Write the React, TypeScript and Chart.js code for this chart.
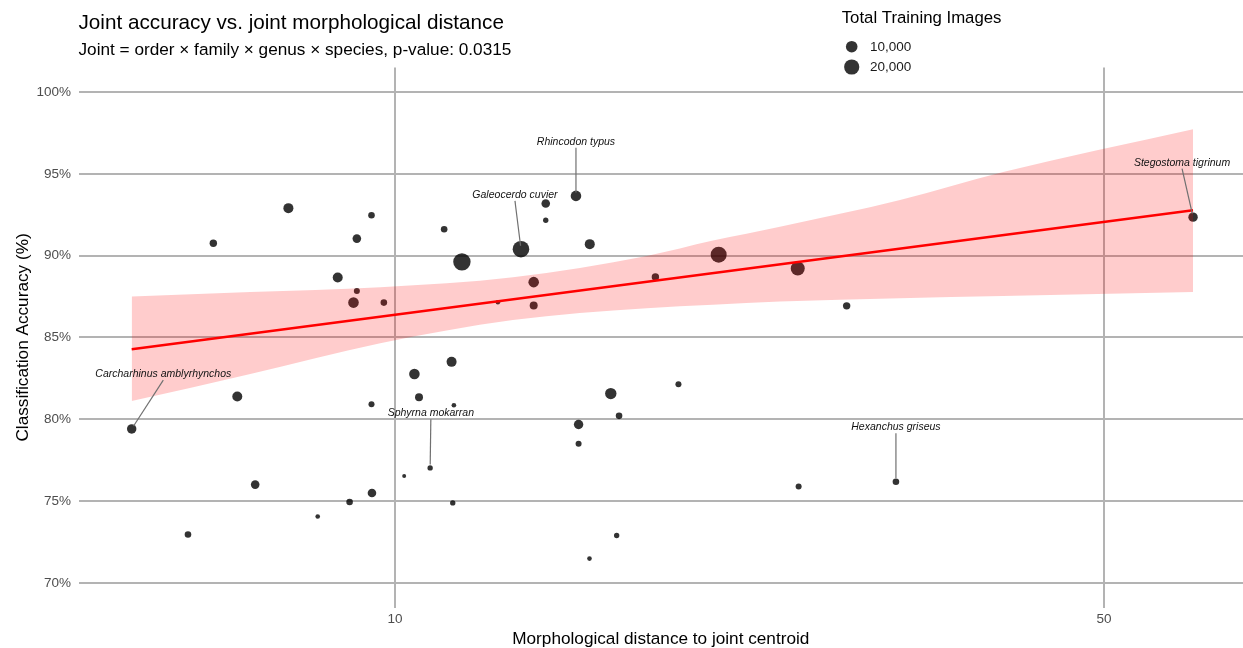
import React, { useEffect, useRef } from 'react';
import { Chart, registerables } from 'chart.js';

Chart.register(...registerables);

const FONT = '"Liberation Sans", Arial, Helvetica, sans-serif';

// ---- point data ----
const distances = [5.50, 6.25, 6.62, 6.99, 7.28, 7.85, 8.39, 8.78, 9.02, 9.10, 9.17, 9.17, 9.48, 9.48, 9.49, 9.75, 10.21, 10.45, 10.56, 10.83, 11.18, 11.37, 11.40, 11.43, 11.64, 12.63, 13.31, 13.70, 13.70, 14.08, 14.08, 15.08, 15.17, 15.17, 15.55, 15.56, 16.32, 16.54, 16.63, 18.06, 19.03, 20.85, 24.95, 25.00, 27.88, 31.18, 61.21];
const accuracies = [79.41, 72.96, 90.76, 81.39, 76.01, 92.90, 74.06, 88.66, 74.95, 87.13, 91.04, 87.84, 92.47, 80.92, 75.50, 87.13, 76.54, 82.77, 81.35, 77.03, 91.61, 83.51, 74.89, 80.86, 89.62, 87.15, 90.39, 88.38, 86.95, 93.18, 92.16, 93.65, 79.68, 78.50, 71.49, 90.70, 81.57, 72.90, 80.21, 88.70, 82.14, 90.06, 89.21, 75.89, 86.93, 76.18, 92.35];
const trainingImages = [5600, 1800, 2700, 6700, 4300, 6700, 400, 6700, 1800, 7800, 4300, 1300, 1800, 1300, 4300, 1800, 150, 7800, 3400, 800, 1800, 6700, 800, 400, 27800, 400, 24800, 7800, 3400, 4300, 800, 7800, 5600, 1300, 400, 6700, 9500, 800, 1800, 2700, 1300, 22700, 16300, 1300, 2700, 1800, 5600];

// ---- regression fit and confidence band ----
const fitX = [5.50, 61.21];
const fitY = [84.28, 92.77];
const bandX = [5.50, 7.20, 9.67, 13.07, 17.71, 20.58, 23.96, 31.47, 39.77, 61.21];
const bandUpper = [87.50, 87.78, 88.07, 88.68, 89.98, 90.92, 91.77, 93.40, 95.11, 97.72];
const bandLower = [81.11, 82.77, 84.65, 86.07, 86.79, 87.00, 87.19, 87.40, 87.54, 87.78];

// ---- labelled species ----
const labelNames = ['Rhincodon typus', 'Galeocerdo cuvier', 'Stegostoma tigrinum', 'Carcharhinus amblyrhynchos', 'Sphyrna mokarran', 'Hexanchus griseus'];
const labelPoint = [31, 26, 46, 0, 19, 45];
const labelX = [15.08, 13.13, 59.7, 5.909, 10.847, 31.18];
const labelY = [96.95, 93.71, 95.68, 82.76, 80.37, 79.52];

// ---- axes / legend ----
const xTicks = [10, 50];
const xTickLabels = ['10', '50'];
const yTicks = [70, 75, 80, 85, 90, 95, 100];
const legendValues = [10000, 20000];
const legendLabels = ['10,000', '20,000'];

const radiusFor = (n: number) => 1.45 + 0.0435 * Math.sqrt(n);

const overlay = {
  id: 'overlay',
  afterDatasetsDraw(chart: any) {
    const ctx = chart.ctx as CanvasRenderingContext2D;
    const xs = chart.scales.x;
    const ys = chart.scales.y;
    ctx.save();
    // label segments
    ctx.strokeStyle = '#707070';
    ctx.lineWidth = 1.2;
    labelNames.forEach((name, i) => {
      const pi = labelPoint[i];
      const lx = xs.getPixelForValue(labelX[i]);
      const ly = ys.getPixelForValue(labelY[i]);
      const px = xs.getPixelForValue(distances[pi]);
      const py = ys.getPixelForValue(accuracies[pi]);
      const sx = lx;
      const sy = ly + 6;
      const dx = px - sx;
      const dy = py - sy;
      const len = Math.sqrt(dx * dx + dy * dy);
      const ex = px - (dx / len) * 3.5;
      const ey = py - (dy / len) * 3.5;
      ctx.beginPath();
      ctx.moveTo(sx, sy);
      ctx.lineTo(ex, ey);
      ctx.stroke();
    });
    // label texts
    ctx.fillStyle = '#111';
    ctx.font = `italic 10.5px ${FONT}`;
    ctx.textAlign = 'center';
    ctx.textBaseline = 'middle';
    labelNames.forEach((name, i) => {
      ctx.fillText(name, xs.getPixelForValue(labelX[i]), ys.getPixelForValue(labelY[i]));
    });
    // title & subtitle
    ctx.textAlign = 'left';
    ctx.textBaseline = 'alphabetic';
    ctx.fillStyle = '#000';
    ctx.font = `20.7px ${FONT}`;
    ctx.fillText('Joint accuracy vs. joint morphological distance', 78.5, 29.3);
    ctx.font = `17.2px ${FONT}`;
    ctx.fillText('Joint = order \u00d7 family \u00d7 genus \u00d7 species, p-value: 0.0315', 78.5, 55);
    // legend
    ctx.font = `16.8px ${FONT}`;
    ctx.fillText('Total Training Images', 841.7, 23.3);
    const legendY = [46.7, 67];
    legendValues.forEach((v, i) => {
      ctx.fillStyle = 'rgba(0,0,0,0.8)';
      ctx.beginPath();
      ctx.arc(851.7, legendY[i], radiusFor(v), 0, Math.PI * 2);
      ctx.fill();
      ctx.fillStyle = '#1a1a1a';
      ctx.font = `13.5px ${FONT}`;
      ctx.textBaseline = 'middle';
      ctx.fillText(legendLabels[i], 870, legendY[i] + 0.5);
    });
    // axis titles
    ctx.fillStyle = '#000';
    ctx.font = `17.2px ${FONT}`;
    ctx.textAlign = 'center';
    ctx.textBaseline = 'alphabetic';
    ctx.fillText('Morphological distance to joint centroid', (chart.chartArea.left + chart.chartArea.right) / 2, 643.5);
    ctx.translate(27.5, (chart.chartArea.top + chart.chartArea.bottom) / 2);
    ctx.rotate(-Math.PI / 2);
    ctx.fillText('Classification Accuracy (%)', 0, 0);
    ctx.restore();
  },
};

export default function App() {
  const ref = useRef<HTMLCanvasElement>(null);
  useEffect(() => {
    document.body.style.margin = '0';
    const canvas = ref.current!;
    const chart = new Chart(canvas, {
      type: 'scatter',
      data: {
        datasets: [
          {
            type: 'line',
            data: bandX.map((x, i) => ({ x, y: bandUpper[i] })),
            backgroundColor: 'rgba(255,0,0,0.2)',
            borderWidth: 0,
            pointRadius: 0,
            fill: '+1',
            cubicInterpolationMode: 'monotone',
            order: 0,
          },
          {
            type: 'line',
            data: bandX.map((x, i) => ({ x, y: bandLower[i] })),
            borderWidth: 0,
            pointRadius: 0,
            fill: false,
            cubicInterpolationMode: 'monotone',
            order: 0,
          },
          {
            type: 'line',
            data: fitX.map((x, i) => ({ x, y: fitY[i] })),
            borderColor: '#ff0000',
            borderWidth: 2.4,
            pointRadius: 0,
            fill: false,
            order: 0,
          },
          {
            type: 'scatter',
            data: distances.map((x, i) => ({ x, y: accuracies[i] })),
            backgroundColor: 'rgba(0,0,0,0.8)',
            borderWidth: 0,
            pointRadius: (c: any) => radiusFor(trainingImages[c.dataIndex] ?? 1000),
            order: 1,
          },
        ] as any,
      },
      options: {
        animation: false,
        responsive: false,
        maintainAspectRatio: false,
        events: [],
        layout: { autoPadding: false, padding: { top: 67.4, left: 0, right: 0, bottom: 0 } },
        plugins: {
          legend: { display: false },
          tooltip: { enabled: false },
          title: { display: false },
        },
        scales: {
          x: {
            type: 'logarithmic',
            min: 4.8755,
            max: 68.56,
            afterFit: (s: any) => { s.height = 40.5; s.paddingLeft = 0; s.paddingRight = 0; },
            afterBuildTicks: (s: any) => { s.ticks = xTicks.map((v) => ({ value: v })); },
            ticks: {
              autoSkip: false,
              maxRotation: 0,
              padding: 4,
              color: '#4d4d4d',
              font: { family: FONT, size: 13.5 },
              callback: (v: any) => {
                const i = xTicks.indexOf(Number(v));
                return i >= 0 ? xTickLabels[i] : '';
              },
            },
            grid: { color: '#b3b3b3', lineWidth: 2, drawTicks: false },
            border: { display: false },
          },
          y: {
            type: 'linear',
            min: 68.5,
            max: 101.5,
            afterFit: (s: any) => { s.width = 78.6; s.paddingTop = 0; s.paddingBottom = 0; },
            afterBuildTicks: (s: any) => { s.ticks = yTicks.map((v) => ({ value: v })); },
            ticks: {
              padding: 7.5,
              color: '#4d4d4d',
              font: { family: FONT, size: 13.5 },
              callback: (v: any) => `${v}%`,
            },
            grid: { color: '#b3b3b3', lineWidth: 2, drawTicks: false },
            border: { display: false },
          },
        },
      } as any,
      plugins: [overlay],
    });
    return () => chart.destroy();
  }, []);
  return (
    <canvas
      ref={ref}
      width={1243}
      height={648}
      style={{ display: 'block', width: '1243px', height: '648px' }}
    />
  );
}
